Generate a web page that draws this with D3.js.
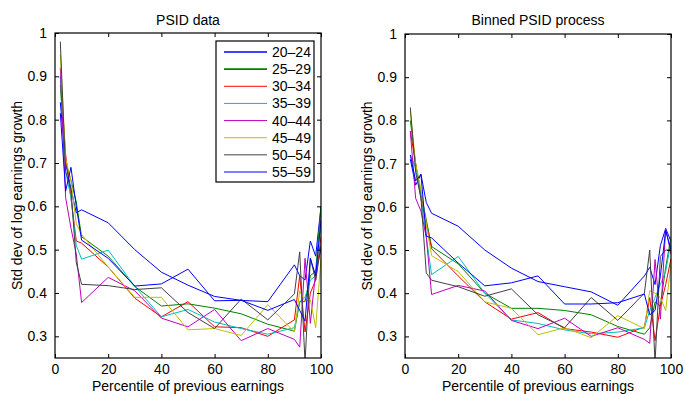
<!DOCTYPE html>
<html>
<head>
<meta charset="utf-8">
<script src="https://cdn.jsdelivr.net/npm/d3@7"></script>
<style>
  body { margin: 0; background: #fff; }
  svg text { font-family: "Liberation Sans", Arial, sans-serif; fill: #000; }
</style>
</head>
<body>
<svg id="chart" width="685" height="394"></svg>
<script>
// percentile bins (x positions)
const pct = [2, 4, 6, 8, 10, 20, 30, 40, 50, 60, 70, 80, 90, 92, 94, 96, 98, 100];
const ageGroups = ["20–24", "25–29", "30–34", "35–39", "40–44", "45–49", "50–54", "55–59"];
const colors = ["#0000ff", "#008000", "#ff0000", "#00bfbf", "#bf00bf", "#bfbf00", "#404040", "#0000ff"];

// left panel: PSID data
const psid2024 = [0.84, 0.70, 0.64, 0.585, 0.592, 0.562, 0.50, 0.448, 0.418, 0.392, 0.383, 0.38, 0.465, 0.44, 0.43, 0.52, 0.485, 0.60];
const psid2529 = [0.88, 0.70, 0.66, 0.61, 0.53, 0.485, 0.415, 0.37, 0.375, 0.365, 0.352, 0.328, 0.312, 0.38, 0.38, 0.44, 0.45, 0.60];
const psid3034 = [0.90, 0.72, 0.62, 0.52, 0.515, 0.46, 0.388, 0.345, 0.38, 0.322, 0.32, 0.30, 0.338, 0.44, 0.31, 0.40, 0.43, 0.53];
const psid3539 = [0.90, 0.68, 0.62, 0.51, 0.478, 0.499, 0.415, 0.345, 0.362, 0.333, 0.318, 0.305, 0.32, 0.38, 0.39, 0.43, 0.44, 0.56];
const psid4044 = [0.92, 0.62, 0.55, 0.49, 0.378, 0.436, 0.405, 0.342, 0.322, 0.362, 0.29, 0.318, 0.293, 0.275, 0.48, 0.33, 0.45, 0.50];
const psid4549 = [0.95, 0.71, 0.66, 0.56, 0.535, 0.46, 0.39, 0.39, 0.315, 0.318, 0.302, 0.373, 0.31, 0.405, 0.38, 0.385, 0.32, 0.48];
const psid5054 = [0.98, 0.68, 0.64, 0.47, 0.42, 0.417, 0.408, 0.412, 0.355, 0.318, 0.386, 0.338, 0.398, 0.495, 0.24, 0.48, 0.43, 0.51];
const psid5559 = [0.815, 0.635, 0.69, 0.60, 0.522, 0.48, 0.416, 0.421, 0.455, 0.382, 0.383, 0.36, 0.385, 0.36, 0.335, 0.48, 0.44, 0.57];

// right panel: binned PSID process
const bin2024 = [0.71, 0.65, 0.675, 0.61, 0.585, 0.555, 0.50, 0.458, 0.427, 0.415, 0.403, 0.372, 0.44, 0.46, 0.42, 0.51, 0.55, 0.52];
const bin2529 = [0.80, 0.70, 0.63, 0.57, 0.508, 0.468, 0.40, 0.365, 0.365, 0.36, 0.35, 0.323, 0.305, 0.32, 0.38, 0.37, 0.46, 0.53];
const bin3034 = [0.775, 0.70, 0.62, 0.56, 0.503, 0.44, 0.38, 0.34, 0.355, 0.318, 0.31, 0.298, 0.322, 0.39, 0.29, 0.37, 0.42, 0.48];
const bin3539 = [0.72, 0.69, 0.62, 0.53, 0.443, 0.485, 0.40, 0.338, 0.33, 0.315, 0.306, 0.31, 0.32, 0.36, 0.39, 0.42, 0.45, 0.52];
const bin4044 = [0.775, 0.62, 0.59, 0.53, 0.397, 0.418, 0.405, 0.337, 0.318, 0.342, 0.30, 0.32, 0.293, 0.284, 0.478, 0.34, 0.55, 0.49];
const bin4549 = [0.82, 0.70, 0.64, 0.56, 0.487, 0.45, 0.38, 0.365, 0.304, 0.32, 0.297, 0.348, 0.318, 0.406, 0.40, 0.39, 0.36, 0.47];
const bin5054 = [0.83, 0.68, 0.62, 0.447, 0.43, 0.415, 0.393, 0.41, 0.35, 0.32, 0.39, 0.337, 0.40, 0.50, 0.24, 0.485, 0.50, 0.50];
const bin5559 = [0.72, 0.66, 0.675, 0.532, 0.528, 0.47, 0.417, 0.424, 0.44, 0.375, 0.375, 0.378, 0.398, 0.35, 0.36, 0.44, 0.545, 0.50];

const xTicks = [0, 20, 40, 60, 80, 100];
const yTicks = [0.3, 0.4, 0.5, 0.6, 0.7, 0.8, 0.9, 1];

const svg = d3.select("#chart");

function drawPanel(opt) {
  const { left, right, top, bottom, title, series, id, legend } = opt;
  const x = d3.scaleLinear().domain([0, 100]).range([left, right]);
  const y = d3.scaleLinear().domain([0.25, 1]).range([bottom, top]);
  const g = svg.append("g");

  g.append("clipPath").attr("id", id)
    .append("rect")
    .attr("x", left).attr("y", top)
    .attr("width", right - left).attr("height", bottom - top);

  const line = d3.line().x((d, i) => x(pct[i])).y(d => y(d));
  g.append("g").attr("clip-path", `url(#${id})`)
    .selectAll("path")
    .data(series)
    .enter()
    .append("path")
    .attr("d", line)
    .attr("fill", "none")
    .attr("stroke", (d, i) => colors[i])
    .attr("stroke-width", 1)
    .attr("stroke-linejoin", "round");

  // axes, ticks pointing inward on all sides (matlab style)
  const fmtY = d => (d === 1 ? "1" : d3.format(".1f")(d));
  g.append("g").attr("transform", `translate(0,${bottom})`)
    .call(d3.axisBottom(x).tickValues(xTicks).tickSizeInner(-4).tickSizeOuter(0).tickPadding(6));
  g.append("g").attr("transform", `translate(0,${top})`)
    .call(d3.axisTop(x).tickValues(xTicks).tickSizeInner(-4).tickSizeOuter(0).tickFormat(""));
  g.append("g").attr("transform", `translate(${left},0)`)
    .call(d3.axisLeft(y).tickValues(yTicks).tickSizeInner(-4).tickSizeOuter(0).tickPadding(8).tickFormat(fmtY));
  g.append("g").attr("transform", `translate(${right},0)`)
    .call(d3.axisRight(y).tickValues(yTicks).tickSizeInner(-4).tickSizeOuter(0).tickFormat(""));
  g.selectAll(".domain").remove();
  g.selectAll(".tick line").attr("stroke", "#000");
  g.selectAll(".tick text").attr("font-size", 14).attr("fill", "#000");

  g.append("rect")
    .attr("x", left).attr("y", top)
    .attr("width", right - left).attr("height", bottom - top)
    .attr("fill", "none").attr("stroke", "#000").attr("stroke-width", 1.2);

  g.append("text")
    .attr("x", (left + right) / 2).attr("y", 25)
    .attr("text-anchor", "middle").attr("font-size", 14)
    .text(title);
  g.append("text")
    .attr("x", (left + right) / 2).attr("y", 391)
    .attr("text-anchor", "middle").attr("font-size", 14)
    .text("Percentile of previous earnings");
  g.append("text")
    .attr("transform", `translate(${left - 33},${(top + bottom) / 2}) rotate(-90)`)
    .attr("text-anchor", "middle").attr("font-size", 14)
    .text("Std dev of log earnings growth");

  if (legend) {
    const lg = g.append("g");
    lg.append("rect")
      .attr("x", 216).attr("y", 41).attr("width", 98).attr("height", 141)
      .attr("fill", "#fff").attr("stroke", "#000").attr("stroke-width", 1.2);
    const ly = d3.scalePoint().domain(ageGroups).range([52, 172]);
    ageGroups.forEach((name, i) => {
      lg.append("line")
        .attr("x1", 224).attr("x2", 267)
        .attr("y1", ly(name)).attr("y2", ly(name))
        .attr("stroke", colors[i]).attr("stroke-width", i < 2 ? 1.6 : 1);
      lg.append("text")
        .attr("x", 272).attr("y", ly(name) + 5)
        .attr("font-size", 14)
        .text(name);
    });
  }
}

drawPanel({
  id: "clipL", left: 55, right: 321, top: 33, bottom: 358, title: "PSID data",
  series: [psid2024, psid2529, psid3034, psid3539, psid4044, psid4549, psid5054, psid5559],
  legend: true
});
drawPanel({
  id: "clipR", left: 405, right: 671, top: 34, bottom: 358, title: "Binned PSID process",
  series: [bin2024, bin2529, bin3034, bin3539, bin4044, bin4549, bin5054, bin5559],
  legend: false
});
</script>
</body>
</html>
